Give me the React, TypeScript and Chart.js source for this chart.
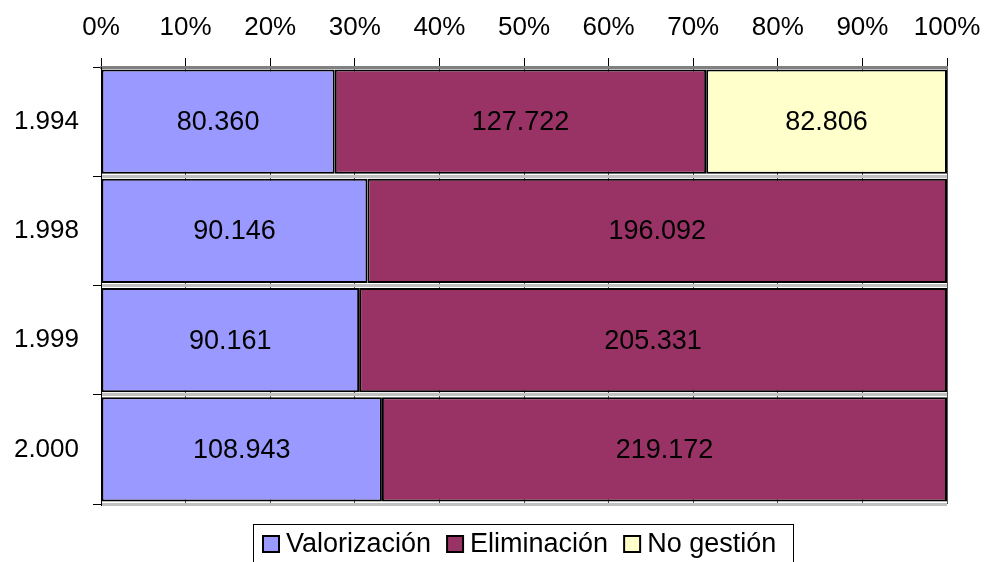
import React, { useEffect, useRef } from "react";
import { Chart, registerables } from "chart.js";

Chart.register(...registerables);

const categories = ["1.994", "1.998", "1.999", "2.000"];
const seriesNames = ["Valorización", "Eliminación", "No gestión"];
const valorizacion = [80360, 90146, 90161, 108943];
const eliminacion = [127722, 196092, 205331, 219172];
const noGestion = [82806, 0, 0, 0];
const seriesColors = ["#9999FF", "#993366", "#FFFFCC"];
const xTickLabels = ["0%", "10%", "20%", "30%", "40%", "50%", "60%", "70%", "80%", "90%", "100%"];

const FONT = "'Liberation Sans', Arial, sans-serif";
const TICK_SIZE = 26;
const LABEL_SIZE = 27;
const LEGEND_SIZE = 27;

function fmt(n: number): string {
  const s = Math.round(n).toString();
  return s.replace(/\B(?=(\d{3})+(?!\d))/g, ".");
}

const rawSeries = [valorizacion, eliminacion, noGestion];
const totals = categories.map((_, i) => rawSeries.reduce((a, s) => a + s[i], 0));

const valueLabels = {
  id: "valueLabels",
  afterDatasetsDraw(chart: any) {
    const ctx = chart.ctx;
    ctx.save();
    ctx.font = `${LABEL_SIZE}px ${FONT}`;
    ctx.fillStyle = "#000";
    ctx.textAlign = "center";
    ctx.textBaseline = "middle";
    chart.data.datasets.forEach((ds: any, di: number) => {
      const meta = chart.getDatasetMeta(di);
      meta.data.forEach((el: any, i: number) => {
        const raw = ds.raw[i];
        if (!raw) return;
        const cx = (el.x + el.base) / 2;
        ctx.fillText(fmt(raw), cx, el.y + 1);
      });
    });
    ctx.restore();
  },
};

const boxedLegend = {
  id: "boxedLegend",
  afterDraw(chart: any) {
    const ctx = chart.ctx;
    ctx.save();
    ctx.font = `${LEGEND_SIZE}px ${FONT}`;
    const sq = 16;
    const gapBoxText = 7;
    const gapItems = 16;
    const widths = seriesNames.map((n) => ctx.measureText(n).width);
    const inner = widths.reduce((a, w) => a + sq + gapBoxText + w, 0) + gapItems * (seriesNames.length - 1);
    const padL = 9;
    const padR = 18;
    const boxW = Math.round(inner + padL + padR);
    const boxL = 253.5;
    const boxT = 524.5;
    ctx.strokeStyle = "#000";
    ctx.lineWidth = 1;
    ctx.strokeRect(boxL, boxT, boxW, 60);
    const cy = 544;
    let x = Math.round(boxL + padL);
    seriesNames.forEach((n, i) => {
      ctx.fillStyle = seriesColors[i];
      ctx.fillRect(x, cy - sq / 2, sq, sq);
      ctx.strokeStyle = "#000";
      ctx.lineWidth = 2;
      ctx.strokeRect(x, cy - sq / 2, sq, sq);
      x += sq + gapBoxText;
      ctx.fillStyle = "#000";
      ctx.textAlign = "left";
      ctx.textBaseline = "middle";
      ctx.fillText(n, x, cy + 1);
      x += widths[i] + gapItems;
    });
    ctx.restore();
  },
};

export default function App() {
  const ref = useRef<HTMLCanvasElement | null>(null);
  useEffect(() => {
    if (!ref.current) return;
    const datasets = rawSeries.map((s, si) => ({
      label: seriesNames[si],
      data: s.map((v, i) => (v / totals[i]) * 100),
      raw: s,
      backgroundColor: seriesColors[si],
      borderColor: "#000",
      borderWidth: 2,
      borderSkipped: false,
      categoryPercentage: 1,
      barPercentage: 0.955,
    }));
    const chart = new Chart(ref.current, {
      type: "bar",
      data: { labels: categories, datasets: datasets as any },
      options: {
        indexAxis: "y",
        animation: false,
        responsive: false,
        maintainAspectRatio: false,
        layout: { padding: { top: 0, left: 0, right: 37, bottom: 58 } },
        plugins: {
          legend: { display: false },
          tooltip: { enabled: false },
        },
        scales: {
          x: {
            position: "top",
            stacked: true,
            min: 0,
            max: 100,
            afterFit(scale: any) {
              scale.height = 67;
              scale.paddingLeft = 0;
              scale.paddingRight = 0;
            },
            ticks: {
              stepSize: 10,
              color: "#000",
              font: { family: FONT, size: TICK_SIZE },
              padding: 15,
              maxRotation: 0,
              autoSkip: false,
              callback: (_v: any, i: number) => xTickLabels[i],
            },
            grid: {
              display: true,
              drawOnChartArea: true,
              color: "#555",
              lineWidth: 1,
              tickLength: 9,
              tickColor: "#000",
            },
            border: { display: true, color: "#808080", width: 3 },
          },
          y: {
            stacked: true,
            afterFit(scale: any) {
              scale.width = 101;
              scale.paddingTop = 0;
              scale.paddingBottom = 0;
            },
            ticks: {
              color: "#000",
              font: { family: FONT, size: TICK_SIZE },
              padding: 14,
            },
            grid: {
              display: true,
              offset: true,
              drawOnChartArea: true,
              color: "#C0C0C0",
              lineWidth: 3,
              tickLength: 8,
              tickColor: "#000",
              tickWidth: 1,
            },
            border: { display: true, color: "#000", width: 1 },
          },
        },
      },
      plugins: [valueLabels, boxedLegend],
    });
    return () => chart.destroy();
  }, []);
  return (
    <div style={{ position: "fixed", left: 0, top: 0, width: 984, height: 562, background: "#fff" }}>
      <canvas ref={ref} width={984} height={562} style={{ width: 984, height: 562 }} />
    </div>
  );
}
